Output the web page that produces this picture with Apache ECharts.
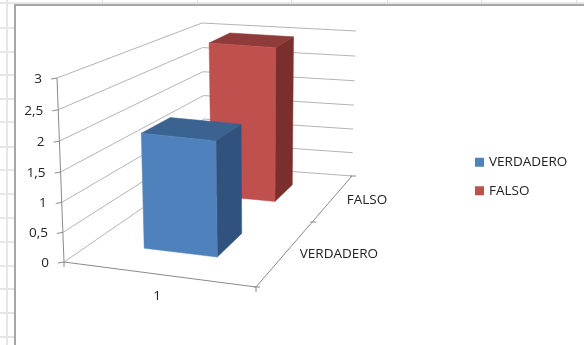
<!DOCTYPE html>
<html>
<head>
<meta charset="utf-8">
<style>html,body{margin:0;padding:0;background:#fff}#c{width:584px;height:345px}</style>
<script src="https://cdn.jsdelivr.net/npm/echarts@6/dist/echarts.min.js"></script>
</head>
<body>
<div id="c"></div>
<script>
const categories = ['1'];
const depthLabels = ['VERDADERO', 'FALSO'];
const seriesNames = ['VERDADERO', 'FALSO'];
const verdaderoValues = [2];
const falsoValues = [3];
const valueTicks = [0, 0.5, 1, 1.5, 2, 2.5, 3];
const valueTickLabels = ['0', '0,5', '1', '1,5', '2', '2,5', '3'];
const palette = {
  VERDADERO: { front: '#4f81bd', side: '#31527c', top: '#3b6391' },
  FALSO: { front: '#c0504d', side: '#7a2f2d', top: '#8f3b39' }
};

const FONT = '"Open Sans", "Noto Sans", sans-serif';
const FONT_SIZE = 13.5;
const VALUE_MAX = 3;

// Corners of the chart box as seen on screen: floor and ceiling, front and back.
const box = {
  floorFL: [64, 262], floorFR: [256, 287], floorBR: [352, 176], floorBL: [205, 165],
  ceilFL: [57, 78], ceilFR: [255, 98], ceilBR: [356, 31], ceilBL: [202, 23]
};
const DEPTH_PERSPECTIVE = 0.707;
const CEILING_PERSPECTIVE = 0.833;
const HEIGHT_PERSPECTIVE = 1.045;

const mix = (a, b, t) => [a[0] + (b[0] - a[0]) * t, a[1] + (b[1] - a[1]) * t];
const foreshorten = (f, r) => f / (f + r * (1 - f));

// Maps box coordinates (across, depth, height; each 0..1) onto the screen.
function project(u, w, v) {
  const t = foreshorten(w, DEPTH_PERSPECTIVE);
  const tc = foreshorten(w, CEILING_PERSPECTIVE);
  const floor = mix(mix(box.floorFL, box.floorBL, t), mix(box.floorFR, box.floorBR, t), u);
  const ceilX = mix(mix(box.ceilFL, box.ceilBL, t), mix(box.ceilFR, box.ceilBR, t), u)[0];
  const ceilY = mix(mix(box.ceilFL, box.ceilBL, tc), mix(box.ceilFR, box.ceilBR, tc), u)[1];
  return mix(floor, [ceilX, ceilY], foreshorten(v, HEIGHT_PERSPECTIVE));
}

// Height fraction taken from the hidden value axis.
function heightOf(api, value) {
  const y0 = api.coord([0, 0])[1];
  const y1 = api.coord([0, VALUE_MAX])[1];
  return (api.coord([0, value])[1] - y0) / (y1 - y0);
}

function line(a, b, color, width) {
  return {
    type: 'line',
    silent: true,
    shape: { x1: a[0], y1: a[1], x2: b[0], y2: b[1] },
    style: { stroke: color, lineWidth: width || 1 }
  };
}

function text(str, x, y, align) {
  return {
    type: 'text',
    silent: true,
    style: { text: str, x: x, y: y, align: align, verticalAlign: 'middle', font: FONT_SIZE + 'px ' + FONT, fill: '#222' }
  };
}

// Walls, floor, ticks and axis labels.
function renderFrame(params, api) {
  const children = [];
  const wallColor = '#b4b4b4';
  const axisColor = '#8a8a8a';
  valueTicks.forEach((tick, i) => {
    const v = heightOf(api, tick);
    const a = project(0, 0, v), b = project(0, 1, v), c = project(1, 1, v);
    children.push(line(a, b, wallColor), line(b, c, wallColor));
    children.push(line([a[0] - 6, a[1] + 1], a, axisColor));
    children.push(text(valueTickLabels[i], a[0] - 15, a[1] + 1, 'right'));
  });
  children.push(line(project(0, 0, 0), project(0, 0, 1), axisColor));
  children.push(line(project(0, 0, 0), project(1, 0, 0), axisColor));
  children.push(line(project(1, 0, 0), project(1, 1, 0), axisColor));
  [0, 1].forEach(u => {
    const p = project(u, 0, 0);
    children.push(line(p, [p[0], p[1] + 5], axisColor));
  });
  [0, 0.5, 1].forEach(w => {
    const p = project(1, w, 0);
    children.push(line([p[0] - 2, p[1]], [p[0] + 4, p[1]], axisColor));
  });
  categories.forEach((name, i) => {
    const p = project((i + 0.5) / categories.length, 0, 0);
    children.push(text(name, p[0] - 3, p[1] + 22, 'center'));
  });
  depthLabels.forEach((name, i) => {
    const p = project(1, (i + 0.5) / depthLabels.length, 0);
    children.push(text(name, p[0] + 13, p[1] + 3, 'left'));
  });
  return { type: 'group', children };
}

// One extruded bar: across and depth come from the category bands.
function barRenderer(colors) {
  return function (params, api) {
    const value = api.value(1);
    const depthIndex = api.value(2);
    const v = heightOf(api, value);
    const band = 1 / depthLabels.length;
    const w0 = band * (depthIndex + 0.31), w1 = band * (depthIndex + 0.69);
    const u0 = 0.28, u1 = 0.68;
    const poly = (pts, fill) => ({
      type: 'polygon',
      shape: { points: pts },
      style: { fill: fill, stroke: fill, lineWidth: 0.5 }
    });
    return {
      type: 'group',
      children: [
        poly([project(u1, w0, 0), project(u1, w1, 0), project(u1, w1, v), project(u1, w0, v)], colors.side),
        poly([project(u0, w0, v), project(u1, w0, v), project(u1, w1, v), project(u0, w1, v)], colors.top),
        poly([project(u0, w0, 0), project(u1, w0, 0), project(u1, w0, v), project(u0, w0, v)], colors.front)
      ]
    };
  };
}

// Worksheet cells showing around the chart.
function sheetGraphics() {
  const items = [];
  const cellLine = { stroke: '#e6e6e6', lineWidth: 2 };
  [28, 52, 75, 99, 122, 147, 170, 194, 218, 242, 266, 289, 313, 337].forEach(y => {
    items.push({ type: 'line', silent: true, shape: { x1: 0, y1: y, x2: 15, y2: y }, style: cellLine });
  });
  items.push({ type: 'line', silent: true, shape: { x1: 7, y1: 0, x2: 7, y2: 345 }, style: cellLine });
  items.push({ type: 'line', silent: true, shape: { x1: 0, y1: 3, x2: 584, y2: 3 }, style: cellLine });
  [102, 197, 291, 387, 481, 576].forEach(x => {
    items.push({ type: 'line', silent: true, shape: { x1: x + 0.5, y1: 0, x2: x + 0.5, y2: 4 }, style: { stroke: '#e0e0e0' } });
  });
  items.push({ type: 'polyline', silent: true, shape: { points: [[15, 345], [15, 5], [584, 5]] }, style: { stroke: '#a6a6a6', lineWidth: 2, fill: null } });
  return items;
}

const chart = echarts.init(document.getElementById('c'), null, { renderer: 'canvas' });
chart.setOption({
  animation: false,
  backgroundColor: '#fff',
  graphic: sheetGraphics(),
  grid: { left: 64, right: 328, top: 78, bottom: 83 },
  xAxis: { type: 'category', data: categories, show: false },
  yAxis: { type: 'value', min: 0, max: VALUE_MAX, interval: 0.5, show: false },
  legend: {
    left: 470,
    top: 150,
    orient: 'vertical',
    itemWidth: 9,
    itemHeight: 9,
    itemGap: 14,
    data: seriesNames.map(name => ({ name, icon: 'rect', itemStyle: { color: palette[name].front } })),
    textStyle: { fontFamily: FONT, fontSize: FONT_SIZE, color: '#222', lineHeight: 14.5 }
  },
  series: [
    { type: 'custom', name: 'frame', silent: true, z: 1, renderItem: renderFrame, data: [[0, 0]], encode: { x: 0, y: 1 }, clip: false },
    {
      type: 'custom', name: seriesNames[1], z: 2, renderItem: barRenderer(palette.FALSO), clip: false,
      itemStyle: { color: palette.FALSO.front }, encode: { x: 0, y: 1 },
      data: falsoValues.map((val, i) => [i, val, 1])
    },
    {
      type: 'custom', name: seriesNames[0], z: 3, renderItem: barRenderer(palette.VERDADERO), clip: false,
      itemStyle: { color: palette.VERDADERO.front }, encode: { x: 0, y: 1 },
      data: verdaderoValues.map((val, i) => [i, val, 0])
    }
  ]
});
</script>
</body>
</html>
